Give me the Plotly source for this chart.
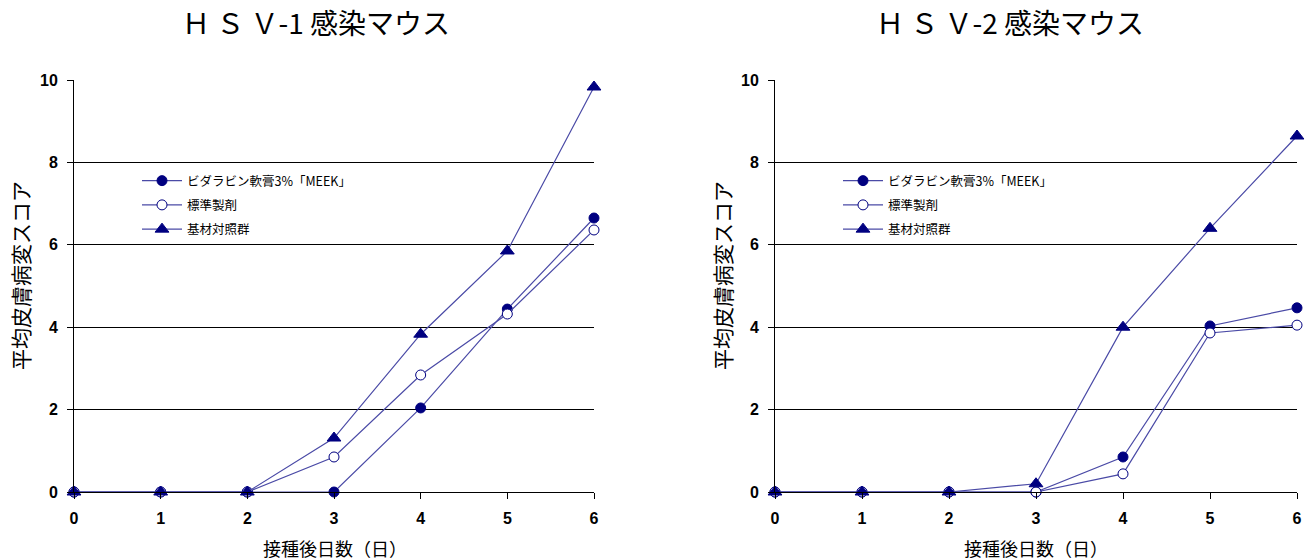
import plotly.graph_objects as go

days = [0, 1, 2, 3, 4, 5, 6]
series_names = ["ビダラビン軟膏3%「MEEK」", "標準製剤", "基材対照群"]

hsv1_vidarabine = [0, 0, 0, 0, 2.04, 4.44, 6.65]
hsv1_standard = [0, 0, 0, 0.85, 2.84, 4.32, 6.36]
hsv1_control = [0, 0, 0, 1.31, 3.83, 5.85, 9.83]

hsv2_vidarabine = [0, 0, 0, 0, 0.85, 4.03, 4.47]
hsv2_standard = [0, 0, 0, 0, 0.44, 3.86, 4.05]
hsv2_control = [0, 0, 0, 0.2, 4.0, 6.4, 8.64]

titles = ["Ｈ Ｓ Ｖ-1 感染マウス", "Ｈ Ｓ Ｖ-2 感染マウス"]
x_title = "接種後日数（日）"
y_title = "平均皮膚病変スコア"
y_ticks = [0, 2, 4, 6, 8, 10]

NAVY = "#000080"
LINE = "#4a4aa6"
FONT = "Noto Sans CJK JP"
TICKFONT = "Liberation Sans Narrow, Liberation Sans, Arial"

styles = [
    dict(symbol="circle", size=10, color=NAVY, line=dict(color=NAVY, width=1)),
    dict(symbol="circle", size=10, color="white", line=dict(color=NAVY, width=1)),
    dict(symbol="triangle-up", size=12, color=NAVY, line=dict(color=NAVY, width=1)),
]

fig = go.Figure()
panels = [
    ([hsv1_vidarabine, hsv1_standard, hsv1_control], "x", "y", "legend"),
    ([hsv2_vidarabine, hsv2_standard, hsv2_control], "x2", "y2", "legend2"),
]
for data, xa, ya, lg in panels:
    for i, (name, vals, st) in enumerate(zip(series_names, data, styles)):
        fig.add_trace(go.Scatter(
            x=days, y=vals, name=name, mode="lines+markers",
            xaxis=xa, yaxis=ya, legend=lg, legendgroup=f"{lg}_{i}", cliponaxis=False,
            line=dict(color=LINE, width=1.2), marker=st,
        ))

W, H = 1307, 560
def px(x):
    return x / W
def py(y):
    return 1 - y / H

axis_common = dict(showline=True, linecolor="black", linewidth=1, ticks="outside",
                   ticklen=6, tickcolor="black", zeroline=False, automargin=False,
                   ticklabelstandoff=6,
                   tickfont=dict(family=TICKFONT, size=16, color="black", weight="bold"))

legend_common = dict(xanchor="left", yanchor="top", bgcolor="rgba(255,255,255,0)",
                     font=dict(family=FONT, size=12.5, color="black"),
                     tracegroupgap=5, itemwidth=40)

fig.update_layout(
    template="none",
    width=W, height=H, margin=dict(l=0, r=0, t=0, b=0, autoexpand=False),
    paper_bgcolor="white", plot_bgcolor="white",
    font=dict(family=FONT, color="black"),
    xaxis=dict(domain=[px(74), px(594)], range=[0, 6], tickvals=days, showgrid=False,
               anchor="y", **axis_common),
    yaxis=dict(domain=[py(492), py(80)], range=[0, 10], tickvals=y_ticks, showgrid=True,
               gridcolor="black", gridwidth=1, anchor="x", **axis_common),
    xaxis2=dict(domain=[px(775), px(1297)], range=[0, 6], tickvals=days, showgrid=False,
                anchor="y2", **axis_common),
    yaxis2=dict(domain=[py(492), py(80)], range=[0, 10], tickvals=y_ticks, showgrid=True,
                gridcolor="black", gridwidth=1, anchor="x2", **axis_common),
    legend=dict(x=px(137), y=py(166), **legend_common),
    legend2=dict(x=px(838), y=py(166), **legend_common),
    showlegend=True,
)

annotations = [
    dict(text=titles[0], x=px(316), y=py(22), xref="paper", yref="paper",
         showarrow=False, font=dict(size=28, family=FONT), xanchor="center", yanchor="middle"),
    dict(text=titles[1], x=px(1010), y=py(22), xref="paper", yref="paper",
         showarrow=False, font=dict(size=28, family=FONT), xanchor="center", yanchor="middle"),
    dict(text=x_title, x=px(335), y=py(548), xref="paper", yref="paper",
         showarrow=False, font=dict(size=18, family=FONT), xanchor="center", yanchor="middle"),
    dict(text=x_title, x=px(1036), y=py(548), xref="paper", yref="paper",
         showarrow=False, font=dict(size=18, family=FONT), xanchor="center", yanchor="middle"),
    dict(text=y_title, x=px(20), y=py(276), xref="paper", yref="paper", textangle=-90,
         showarrow=False, font=dict(size=21, family=FONT), xanchor="center", yanchor="middle"),
    dict(text=y_title, x=px(722), y=py(276), xref="paper", yref="paper", textangle=-90,
         showarrow=False, font=dict(size=21, family=FONT), xanchor="center", yanchor="middle"),
]
fig.update_layout(annotations=annotations)

fig.write_html("out.html", config={"displayModeBar": False},
               post_script="document.body.style.margin='0';document.body.style.padding='0';document.body.style.overflow='hidden';")
